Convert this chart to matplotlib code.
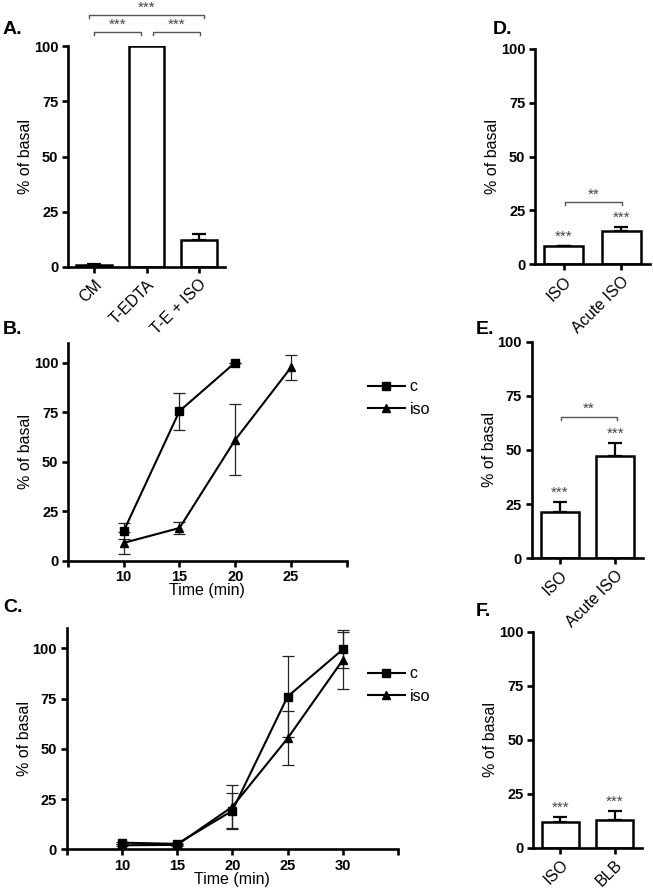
import matplotlib
matplotlib.use("Agg")
import matplotlib.pyplot as plt
import numpy as np

plt.rcParams['font.family'] = ['Liberation Sans', 'DejaVu Sans']

# ---- data ----
a_cats = ['CM', 'T-EDTA', 'T-E + ISO']
a_vals = [1.0, 100.0, 12.0]
a_errs = [0.3, 0.0, 3.0]

b_time_c = [10, 15, 20]
b_c = [15.0, 75.5, 100.0]
b_c_err = [4.0, 9.3, 0.0]
b_time_iso = [10, 15, 20, 25]
b_iso = [9.0, 16.5, 61.0, 97.5]
b_iso_err = [5.4, 3.0, 18.0, 6.5]

c_time = [10, 15, 20, 25, 30]
c_c = [3.3, 2.7, 19.2, 76.0, 99.5]
c_c_err = [0.5, 0.5, 9.0, 20.3, 9.5]
c_iso = [2.0, 2.2, 21.2, 55.2, 94.2]
c_iso_err = [0.5, 0.5, 10.7, 13.4, 14.2]

d_cats = ['ISO', 'Acute ISO']
d_vals = [8.2, 15.2]
d_errs = [0.4, 2.0]

e_cats = ['ISO', 'Acute ISO']
e_vals = [21.2, 47.4]
e_errs = [4.6, 6.0]

f_cats = ['ISO', 'BLB']
f_vals = [11.7, 12.8]
f_errs = [2.7, 4.2]

W, H = 653, 892
fig = plt.figure(figsize=(W / 100, H / 100), dpi=100)


def add_ax(l, r, b, t):
    return fig.add_axes([l / W, (H - b) / H, (r - l) / W, (b - t) / H])


LW = 1.9
TICKFS = 10.5
STARFS = 11
STARCOL = '#444444'


def style(ax):
    for s in ['top', 'right']:
        ax.spines[s].set_visible(False)
    for s in ['left', 'bottom']:
        ax.spines[s].set_linewidth(LW)
    ax.tick_params(width=LW, length=4.5, labelsize=TICKFS, pad=2.5)
    for lab in ax.get_yticklabels():
        lab.set_fontweight('bold')
    ax.set_ylabel('% of basal', fontsize=11.5, labelpad=0.5)


def bar_panel(ax, cats, vals, errs):
    x = np.arange(len(cats))
    ax.bar(x, vals, width=0.68, color='white', edgecolor='black',
           linewidth=1.8, zorder=2)
    for xi, v, e in zip(x, vals, errs):
        if e > 0:
            ax.errorbar(xi, v, yerr=[[0], [e]], fmt='none', ecolor='black',
                        elinewidth=1.6, capsize=5, capthick=1.6, zorder=1)
    ax.set_xlim(-0.5, len(cats) - 0.5)
    ax.set_ylim(0, 100)
    ax.set_yticks([0, 25, 50, 75, 100])
    ax.set_xticks(x)
    style(ax)
    ax.set_xticklabels(cats, rotation=45, ha='right', rotation_mode='anchor',
                       fontsize=11.5)


def stars(ax, x, y, text):
    ax.text(x, y, text, ha='center', va='bottom', fontsize=STARFS,
            color=STARCOL, clip_on=False)


def bracket(ax, x0, x1, y, text, drop=1.5):
    ax.plot([x0, x0, x1, x1], [y - drop, y, y, y - drop], color='#555555',
            lw=1.0, clip_on=False)
    stars(ax, (x0 + x1) / 2, y + 0.3, text)


# ---- Panel A ----
axA = add_ax(68, 225, 267, 46)
bar_panel(axA, a_cats, a_vals, a_errs)
bracket(axA, 0.0, 0.9, 106.3, '***', drop=1.5)
bracket(axA, 1.12, 2.02, 106.3, '***', drop=1.5)
bracket(axA, -0.1, 2.09, 114.0, '***', drop=1.5)

# ---- Panel D ----
axD = add_ax(535, 650, 264, 49)
bar_panel(axD, d_cats, d_vals, d_errs)
bracket(axD, 0.02, 1.02, 28.8, '**', drop=1.5)
stars(axD, 0, d_vals[0] + d_errs[0] + 1.0, '***')
stars(axD, 1, d_vals[1] + d_errs[1] + 1.0, '***')

# ---- Panel E ----
axE = add_ax(531.7, 643.3, 558.3, 341.7)
bar_panel(axE, e_cats, e_vals, e_errs)
bracket(axE, 0.02, 1.02, 65.4, '**', drop=1.5)
stars(axE, 0, e_vals[0] + e_errs[0] + 1.0, '***')
stars(axE, 1, e_vals[1] + e_errs[1] + 1.0, '***')

# ---- Panel F ----
axF = add_ax(533.3, 641.7, 847.7, 631.7)
bar_panel(axF, f_cats, f_vals, f_errs)
stars(axF, 0, f_vals[0] + f_errs[0] + 1.0, '***')
stars(axF, 1, f_vals[1] + f_errs[1] + 1.0, '***')


def line_panel(ax, series, xmax, legend_anchor):
    handles = []
    for t, v, e, m, lab in series:
        ax.errorbar(t, v, yerr=e, fmt='none', ecolor='#222222', elinewidth=0.9,
                    capsize=4.5, capthick=0.9, zorder=2)
        h, = ax.plot(t, v, color='black', lw=1.5, marker=m, markersize=6,
                     markerfacecolor='black', markeredgecolor='black',
                     zorder=3, label=lab)
        handles.append(h)
    ax.set_xlim(5, xmax)
    ax.set_ylim(0, 110)
    ax.set_yticks([0, 25, 50, 75, 100])
    ticks = list(range(5, xmax + 1, 5))
    ax.set_xticks(ticks)
    ax.set_xticklabels(['' if (tk == 5 or tk == xmax) else str(tk)
                        for tk in ticks])
    style(ax)
    for lab in ax.get_xticklabels():
        lab.set_fontweight('bold')
    ax.set_xlabel('Time (min)', fontsize=11.5, labelpad=-1)
    fig.legend(handles=handles, loc='center left',
               bbox_to_anchor=legend_anchor, frameon=False, fontsize=11.5,
               handlelength=2.3, handletextpad=0.3, labelspacing=0.45,
               borderpad=0, borderaxespad=0)


# ---- Panel B ----
axB = add_ax(68, 346.7, 560.7, 342.7)
line_panel(axB, [(b_time_c, b_c, b_c_err, 's', 'c'),
                 (b_time_iso, b_iso, b_iso_err, '^', 'iso')], 30,
           (368 / W, (H - 398) / H))

# ---- Panel C ----
axC = add_ax(66.7, 398, 849.3, 628.3)
line_panel(axC, [(c_time, c_c, c_c_err, 's', 'c'),
                 (c_time, c_iso, c_iso_err, '^', 'iso')], 35,
           (368 / W, (H - 685) / H))

# ---- panel letters ----
for txt, x, y in [('A.', 3, 30), ('B.', 3, 330), ('C.', 3, 608),
                  ('D.', 493, 30), ('E.', 476, 330), ('F.', 476, 612)]:
    fig.text(x / W, (H - y) / H, txt, fontsize=14, fontweight='bold',
             va='center', ha='left')

fig.savefig('out.png', dpi=100)
